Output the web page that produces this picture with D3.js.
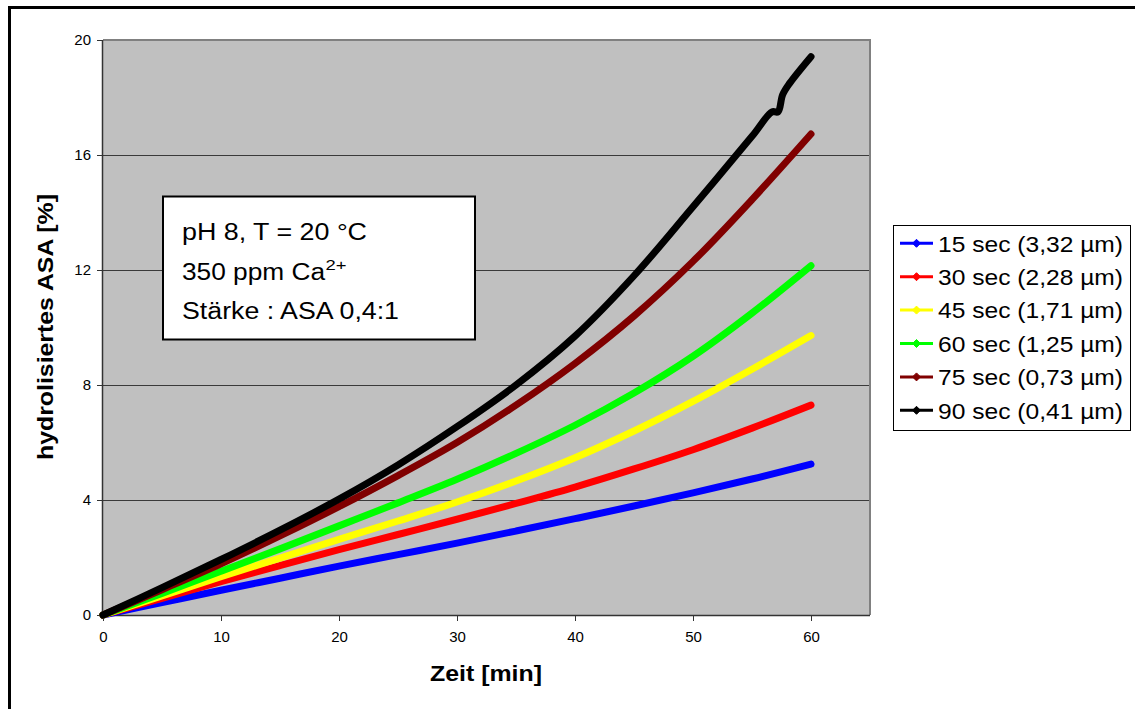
<!DOCTYPE html>
<html>
<head>
<meta charset="utf-8">
<script src="https://cdn.jsdelivr.net/npm/d3@7"></script>
<style>
  html, body { margin: 0; padding: 0; background: #ffffff; }
  svg { display: block; font-family: Arial, "Liberation Sans", sans-serif; }
</style>
</head>
<body>
<svg id="chart" width="1135" height="709"></svg>
<script>
// ---------------- data ----------------
const timeMin = [0, 5, 10, 15, 20, 25, 30, 35, 40, 45, 50, 55, 60];
const sec15 = [0, 0.43, 0.86, 1.28, 1.70, 2.10, 2.50, 2.92, 3.35, 3.79, 4.25, 4.73, 5.25];
const sec30 = [0, 0.58, 1.16, 1.72, 2.27, 2.80, 3.33, 3.88, 4.45, 5.08, 5.75, 6.50, 7.30];
const sec45 = [0, 0.66, 1.33, 1.98, 2.63, 3.27, 3.93, 4.66, 5.47, 6.40, 7.43, 8.55, 9.72];
const sec60 = [0, 0.75, 1.52, 2.30, 3.10, 3.90, 4.72, 5.62, 6.60, 7.72, 9.00, 10.50, 12.15];
const sec75 = [0, 0.88, 1.78, 2.75, 3.77, 4.85, 6.00, 7.30, 8.75, 10.40, 12.30, 14.45, 16.73];
const timeMin90 = [0, 5, 10, 15, 20, 25, 30, 35, 40, 45, 50, 55, 56.7, 57.2, 57.6, 58.2, 60];
const sec90 = [0, 0.95, 1.93, 2.95, 4.03, 5.22, 6.55, 8.00, 9.70, 11.80, 14.20, 16.65, 17.50, 17.50, 18.10, 18.50, 19.42];

const seriesNames = ["15 sec (3,32 µm)", "30 sec (2,28 µm)", "45 sec (1,71 µm)",
                     "60 sec (1,25 µm)", "75 sec (0,73 µm)", "90 sec (0,41 µm)"];
const seriesColors = ["#0000ff", "#ff0000", "#ffff00", "#00ff00", "#800000", "#000000"];
const xTicks = [0, 10, 20, 30, 40, 50, 60];
const yTicks = [0, 4, 8, 12, 16, 20];
const xTitle = "Zeit [min]";
const yTitle = "hydrolisiertes ASA [%]";
const noteLines = ["pH 8, T = 20 °C", "350 ppm Ca", "Stärke : ASA 0,4:1"];

const seriesTimes = [timeMin, timeMin, timeMin, timeMin, timeMin, timeMin90];
const seriesValues = [sec15, sec30, sec45, sec60, sec75, sec90];

// ---------------- layout ----------------
const svg = d3.select("#chart");
const X0 = 103, X1 = 870, Y0 = 40, Y1 = 615;
const x = d3.scaleLinear().domain([0, 65]).range([X0, X1]);
const y = d3.scaleLinear().domain([0, 20]).range([Y1, Y0]);

// outer frame
svg.append("rect").attr("x", 9.5).attr("y", 7.5).attr("width", 1200).attr("height", 800)
  .attr("fill", "none").attr("stroke", "#000").attr("stroke-width", 3);

// plot area
svg.append("rect").attr("x", X0).attr("y", Y0).attr("width", X1 - X0).attr("height", Y1 - Y0)
  .attr("fill", "#c0c0c0");

// gridlines
svg.append("g").selectAll("line").data(yTicks.filter(d => d > 0)).join("line")
  .attr("x1", X0).attr("x2", X1)
  .attr("y1", d => Math.round(y(d)) + 0.5).attr("y2", d => Math.round(y(d)) + 0.5)
  .attr("stroke", "#3a3a3a").attr("stroke-width", 1);

// plot border top/right
svg.append("path")
  .attr("d", `M${X0},${Y0} H${X1} V${Y1}`)
  .attr("fill", "none").attr("stroke", "#808080").attr("stroke-width", 2);

// axes
const yAxis = d3.axisLeft(y).tickValues(yTicks).tickSize(6).tickPadding(6).tickFormat(d3.format("d"));
const gy = svg.append("g").attr("transform", `translate(${X0},0)`).call(yAxis);
const xAxis = d3.axisBottom(x).tickValues(xTicks).tickSize(6).tickPadding(10).tickFormat(d3.format("d"));
const gx = svg.append("g").attr("transform", `translate(0,${Y1})`).call(xAxis);
[gx, gy].forEach(g => {
  g.select(".domain").attr("stroke", "#333").attr("stroke-width", 1.5);
  g.selectAll(".tick line").attr("stroke", "#333");
  g.selectAll(".tick text").attr("font-size", 15).attr("fill", "#000")
    .attr("font-family", "Arial, 'Liberation Sans', sans-serif");
});
gx.select(".domain").attr("d", `M${X0},0.5H${X1}`);
gy.select(".domain").attr("d", `M-0.5,${Y1}V${Y0}`);

// series lines
const line = d3.line().x(d => x(d[0])).y(d => y(d[1])).curve(d3.curveCatmullRom.alpha(0.5));
seriesValues.forEach((vals, i) => {
  const pts = vals.map((v, j) => [seriesTimes[i][j], v]);
  svg.append("path").datum(pts)
    .attr("d", line)
    .attr("fill", "none")
    .attr("stroke", seriesColors[i])
    .attr("stroke-width", 7)
    .attr("stroke-linejoin", "round")
    .attr("stroke-linecap", "round");
});

// annotation box
const note = svg.append("g");
note.append("rect").attr("x", 163).attr("y", 196.5).attr("width", 312).attr("height", 143)
  .attr("fill", "#fff").attr("stroke", "#000").attr("stroke-width", 2);
const noteLens = [185, 143, 217];
const noteBase = [240, 279.5, 318.5];
noteLines.forEach((t, i) => {
  note.append("text").attr("x", 182).attr("y", noteBase[i])
    .attr("font-size", 23).attr("fill", "#000")
    .attr("textLength", noteLens[i]).attr("lengthAdjust", "spacingAndGlyphs")
    .text(t);
});
note.append("text").attr("x", 325.5).attr("y", 270).attr("font-size", 15).attr("fill", "#000")
  .attr("textLength", 21).attr("lengthAdjust", "spacingAndGlyphs").text("2+");

// axis titles
svg.append("text").attr("x", 486).attr("y", 681).attr("text-anchor", "middle")
  .attr("font-size", 22).attr("font-weight", "bold").attr("fill", "#000")
  .attr("textLength", 112).attr("lengthAdjust", "spacingAndGlyphs")
  .text(xTitle);
svg.append("text").attr("transform", "translate(53,327) rotate(-90)")
  .attr("text-anchor", "middle")
  .attr("font-size", 22).attr("font-weight", "bold").attr("fill", "#000")
  .attr("textLength", 266).attr("lengthAdjust", "spacingAndGlyphs")
  .text(yTitle);

// legend
const lg = svg.append("g");
lg.append("rect").attr("x", 893.5).attr("y", 225.5).attr("width", 237).attr("height", 205)
  .attr("fill", "#fff").attr("stroke", "#000").attr("stroke-width", 1);
seriesNames.forEach((name, i) => {
  const cy = 243.3 + 33.4 * i;
  lg.append("line").attr("x1", 900).attr("x2", 933).attr("y1", cy).attr("y2", cy)
    .attr("stroke", seriesColors[i]).attr("stroke-width", 3);
  lg.append("path").attr("d", `M916.5,${cy - 4}L920.5,${cy}L916.5,${cy + 4}L912.5,${cy}Z`)
    .attr("fill", seriesColors[i]).attr("stroke", seriesColors[i]).attr("stroke-width", 1);
  lg.append("text").attr("x", 938).attr("y", cy + 8.3)
    .attr("font-size", 21.5).attr("fill", "#000")
    .attr("textLength", 185).attr("lengthAdjust", "spacingAndGlyphs")
    .text(name);
});
</script>
</body>
</html>
